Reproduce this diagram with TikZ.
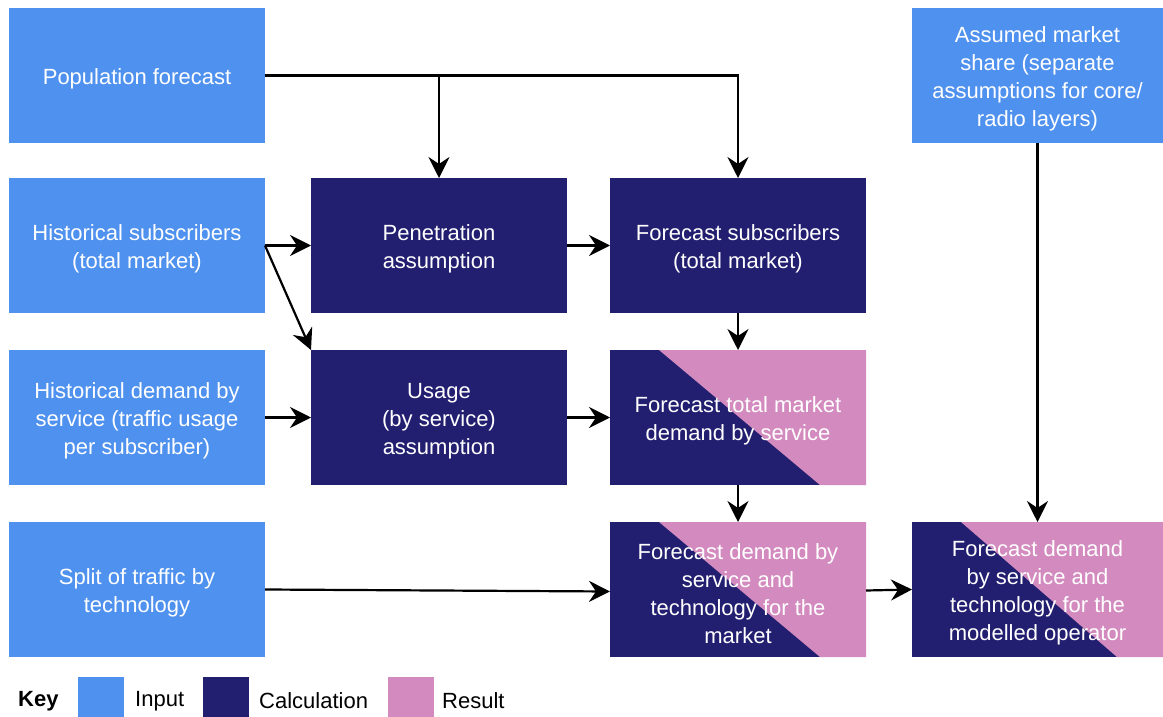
\documentclass[tikz,border=0pt]{standalone}
\usepackage{fontspec}
\setmainfont{Liberation Sans}
\usetikzlibrary{arrows.meta,calc}
\definecolor{inblue}{RGB}{79,145,238}
\definecolor{calcnavy}{RGB}{35,31,112}
\definecolor{respink}{RGB}{211,139,191}
\newcommand\tstr{\rule{0pt}{23.5pt}}
\tikzset{
  box/.style={anchor=north west, minimum width=256pt, minimum height=135pt, inner sep=2pt, outer sep=0pt,
     align=center, text=white, font=\fontsize{22}{28}\selectfont},
  inbox/.style={box, fill=inblue},
  calcbox/.style={box, fill=calcnavy},
  resbox/.style={box, fill=calcnavy, path picture={
     \fill[respink] ($(path picture bounding box.north west)+(49pt,0pt)$) -- (path picture bounding box.north east)
        -- (path picture bounding box.south east) -- ($(path picture bounding box.south east)+(-46pt,0pt)$) -- cycle;}},
  arr/.style={line width=2.2pt, -{Stealth[length=21pt,width=21pt,inset=7pt]}},
  keysq/.style={anchor=north west, minimum width=46pt, minimum height=40pt, inner sep=0pt, outer sep=0pt},
  keytxt/.style={anchor=west, inner sep=0pt, font=\fontsize{22}{24}\selectfont}
}
\begin{document}
\begin{tikzpicture}[x=1pt,y=-1pt]
\useasboundingbox (0,0) rectangle (1163,717);
% column 1
\node[inbox] (pop) at (9,8) {\tstr Population forecast};
\node[inbox] (hsub) at (9,178) {\tstr Historical subscribers\\(total market)};
\node[inbox] (hdem) at (9,350) {\tstr Historical demand by\\service (traffic usage\\per subscriber)};
\node[inbox] (split) at (9,522) {\tstr Split of traffic by\\technology};
% column 2
\node[calcbox] (pen) at (311,178) {\tstr Penetration\\assumption};
\node[calcbox] (use) at (311,350) {\tstr Usage\\(by service)\\assumption};
% column 3
\node[calcbox] (fsub) at (610,178) {\tstr Forecast subscribers\\(total market)};
\node[resbox] (ftot) at (610,350) {\tstr Forecast total market\\demand by service};
\node[resbox] (fmkt) at (610,522) {\tstr Forecast demand by\\service and\\technology for the\\market};
% column 4
\node[inbox, minimum width=251pt] (share) at (912,8) {\tstr Assumed market\\share (separate\\assumptions for core/\\radio layers)};
\node[resbox, minimum width=251pt] (fop) at (912,522) {\tstr Forecast demand\\by service and\\technology for the\\modelled operator};
% connectors
\coordinate (j1) at (pen.north |- pop.east);
\draw[arr] (pop.east) -| (fsub.north);
\draw[arr] (j1) -- (pen.north);
\draw[arr] (hsub.east) -- (pen.west);
\draw[arr] (hsub.east) -- (use.north west);
\draw[arr] (pen.east) -- (fsub.west);
\draw[arr] (fsub.south) -- (ftot.north);
\draw[arr] (hdem.east) -- (use.west);
\draw[arr] (use.east) -- (ftot.west);
\draw[arr] (ftot.south) -- (fmkt.north);
\draw[arr] (split.east) -- ($(fmkt.west)+(0,2)$);
\draw[arr] ($(fmkt.east)+(0,1)$) -- (fop.west);
\draw[arr] (share.south) -- (fop.north);
% key
\node[anchor=west, inner sep=0pt, font=\bfseries\fontsize{22}{24}\selectfont] (keylbl) at (18,701) {Key};
\node[keysq, fill=inblue] (k1) at (78,677) {};
\node[keytxt] (k1t) at (135,701) {Input};
\node[keysq, fill=calcnavy] (k2) at (203,677) {};
\node[keytxt] (k2t) at (259,701) {Calculation};
\node[keysq, fill=respink] (k3) at (388,677) {};
\node[keytxt] (k3t) at (442,701) {Result};
\end{tikzpicture}
\end{document}
